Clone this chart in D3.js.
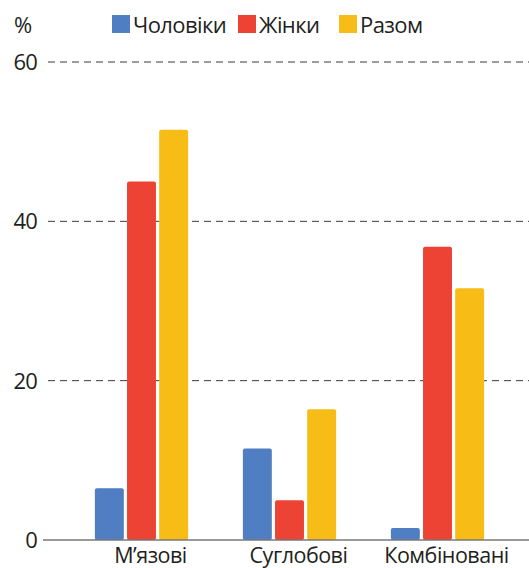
<!DOCTYPE html>
<html>
<head>
<meta charset="utf-8">
<script src="https://cdn.jsdelivr.net/npm/d3@7"></script>
<style>
  body { margin: 0; background: #fff; }
  text { font-family: "Open Sans", sans-serif; fill: #231f20; }
</style>
</head>
<body>
<div id="chart"></div>
<script>
var categories = ["М’язові", "Суглобові", "Комбіновані"];
var seriesNames = ["Чоловіки", "Жінки", "Разом"];
var colors = ["#4f7ec2", "#ec4334", "#f8bc17"];
var men = [6.5, 11.5, 1.5];
var women = [45, 5, 36.8];
var total = [51.5, 16.4, 31.6];
var yTicks = [0, 20, 40, 60];

var W = 529, H = 568;
var series = [men, women, total];

var svg = d3.select('#chart').append('svg')
	.attr('width', W)
	.attr('height', H);

var y = d3.scaleLinear().domain([0, 60]).range([540, 62]);

var x0 = d3.scaleBand().domain(categories).range([67.5, 511.5]).paddingInner(0.37).paddingOuter(0.185);
var x1 = d3.scaleBand().domain(seriesNames).range([0, x0.bandwidth()]).paddingInner(0.1);

// gridlines
svg.append('g').selectAll('line')
	.data(yTicks.filter(function(d){ return d > 0; }))
	.enter().append('line')
	.attr('x1', 48).attr('x2', W)
	.attr('y1', function(d){ return y(d); })
	.attr('y2', function(d){ return y(d); })
	.attr('stroke', '#3a3a3a')
	.attr('stroke-width', 1)
	.attr('stroke-dasharray', '7,5');

// tick labels
svg.append('g').selectAll('text')
	.data(yTicks)
	.enter().append('text')
	.attr('x', 37)
	.attr('y', function(d){ return y(d) + 8; })
	.attr('text-anchor', 'end')
	.attr('font-size', 22)
	.attr('letter-spacing', -0.8)
	.text(function(d){ return d; });

svg.append('text')
	.attr('x', 14).attr('y', 33)
	.attr('font-size', 22)
	.text('%');

// bars
var groups = svg.append('g').selectAll('g')
	.data(categories)
	.enter().append('g')
	.attr('transform', function(d){ return 'translate(' + x0(d) + ',0)'; });

groups.selectAll('rect')
	.data(function(d, i){ return series.map(function(s, j){ return { name: seriesNames[j], value: s[i], color: colors[j] }; }); })
	.enter().append('rect')
	.attr('x', function(d){ return x1(d.name); })
	.attr('y', function(d){ return y(d.value); })
	.attr('width', x1.bandwidth())
	.attr('height', function(d){ return y(0) - y(d.value); })
	.attr('rx', 2)
	.attr('fill', function(d){ return d.color; });

// baseline
svg.append('line')
	.attr('x1', 43).attr('x2', W)
	.attr('y1', y(0)).attr('y2', y(0))
	.attr('stroke', '#777')
	.attr('stroke-width', 1.5);

// category labels
svg.append('g').selectAll('text')
	.data(categories)
	.enter().append('text')
	.attr('x', function(d){ return x0(d) + x0.bandwidth() / 2 + 9; })
	.attr('y', 563)
	.attr('text-anchor', 'middle')
	.attr('font-size', 21.5)
	.attr('letter-spacing', -0.5)
	.text(function(d){ return d; });

// legend
var legendX = [112, 238, 339];
var legend = svg.append('g').selectAll('g')
	.data(seriesNames)
	.enter().append('g')
	.attr('transform', function(d, i){ return 'translate(' + legendX[i] + ',15)'; });

legend.append('rect')
	.attr('width', 18).attr('height', 18)
	.attr('fill', function(d, i){ return colors[i]; });

legend.append('text')
	.attr('x', 21).attr('y', 17.5)
	.attr('font-size', 22)
	.attr('letter-spacing', -0.6)
	.text(function(d){ return d; });
</script>
</body>
</html>
